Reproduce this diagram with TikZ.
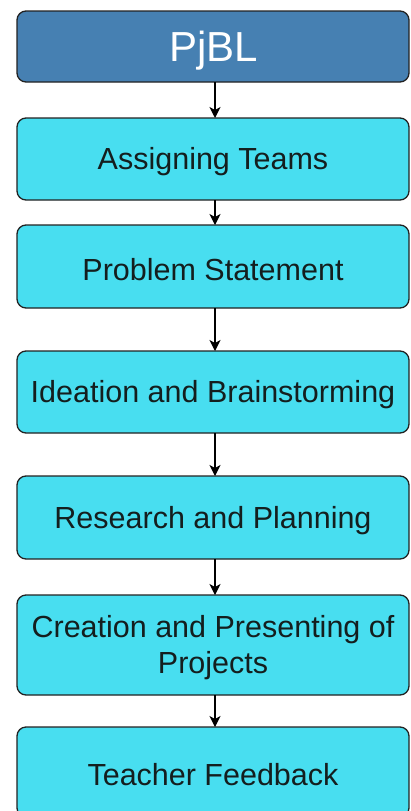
\documentclass[tikz,border=0pt]{standalone}
\usepackage{fontspec}
\setmainfont{Liberation Sans}
\usetikzlibrary{arrows.meta}
\definecolor{topblue}{RGB}{70,128,178}
\definecolor{stepcyan}{RGB}{72,222,240}
\definecolor{edge}{RGB}{34,34,34}
\definecolor{txt}{RGB}{20,30,30}
\begin{document}
\begin{tikzpicture}[x=1pt,y=-1pt,
  box/.style={draw=edge,line width=1.3pt,rounded corners=9pt},
  lab/.style={font=\fontsize{30.5}{36}\selectfont,text=txt,align=center},
  arr/.style={draw=black,line width=1.3pt,-{Stealth[length=11pt,width=11pt,inset=3pt]}}]
\useasboundingbox (0,0) rectangle (410,811);
% boxes
\draw[box,fill=topblue] (17,11) rectangle (409,82);
\node[font=\fontsize{42}{48}\selectfont,text=white] (p0) at (214,51) {PjBL};
\coordinate (b0) at (215,82);
\draw[box,fill=stepcyan] (17,118) rectangle (409,200);
\node[lab] (p1) at (213,162) {Assigning Teams};
\coordinate (t1) at (215,118); \coordinate (b1) at (215,200);
\draw[box,fill=stepcyan] (17,225) rectangle (409,308);
\node[lab] (p2) at (213,269.5) {Problem Statement};
\coordinate (t2) at (215,225); \coordinate (b2) at (215,308);
\draw[box,fill=stepcyan] (17,351) rectangle (409,433);
\node[lab] (p3) at (213,395) {Ideation and Brainstorming};
\coordinate (t3) at (215,351); \coordinate (b3) at (215,433);
\draw[box,fill=stepcyan] (17,476) rectangle (409,559);
\node[lab] (p4) at (213,520.5) {Research and Planning};
\coordinate (t4) at (215,476); \coordinate (b4) at (215,559);
\draw[box,fill=stepcyan] (17,595) rectangle (409,695);
\node[lab] (p5) at (213,648) {Creation and Presenting of\\Projects};
\coordinate (t5) at (215,595); \coordinate (b5) at (215,695);
\draw[box,fill=stepcyan] (17,727) rectangle (409,817);
\node[lab] (p6) at (213,775) {Teacher Feedback};
\coordinate (t6) at (215,727);
% arrows
\draw[arr] (b0) -- (t1);
\draw[arr] (b1) -- (t2);
\draw[arr] (b2) -- (t3);
\draw[arr] (b3) -- (t4);
\draw[arr] (b4) -- (t5);
\draw[arr] (b5) -- (t6);
\end{tikzpicture}
\end{document}
